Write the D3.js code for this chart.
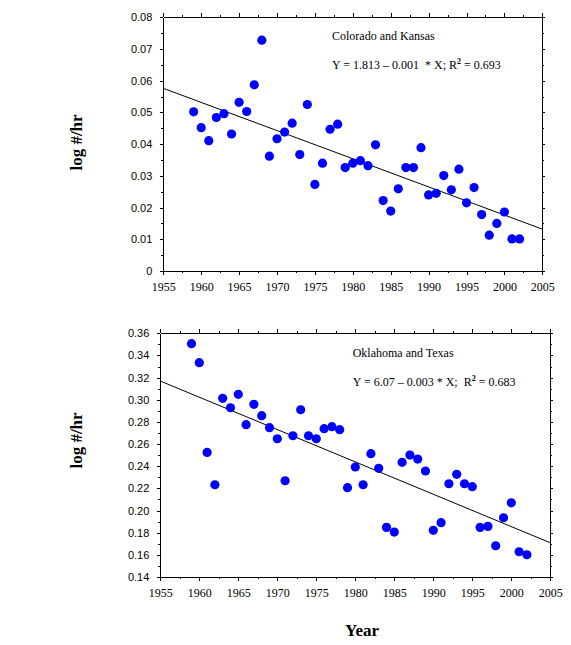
<!DOCTYPE html>
<html><head><meta charset="utf-8">
<script src="https://cdn.jsdelivr.net/npm/d3@7"></script>
<style>
body{margin:0;background:#fff;}
svg{display:block;}
</style></head>
<body>
<svg id="chart" width="571" height="645"></svg>
<script>
// ---- Data ----
const yearsCK = [1959,1960,1961,1962,1963,1964,1965,1966,1967,1968,1969,1970,1971,1972,1973,1974,1975,1976,1977,1978,1979,1980,1981,1982,1983,1984,1985,1986,1987,1988,1989,1990,1991,1992,1993,1994,1995,1996,1997,1998,1999,2000,2001,2002];
const valuesCK = [0.0502,0.0452,0.0411,0.0484,0.0496,0.0432,0.0532,0.0503,0.0587,0.0728,0.0362,0.0417,0.0438,0.0466,0.0367,0.0525,0.0273,0.0340,0.0447,0.0463,0.0326,0.0340,0.0348,0.0332,0.0398,0.0222,0.0189,0.0259,0.0326,0.0326,0.0389,0.0240,0.0245,0.0301,0.0256,0.0321,0.0215,0.0263,0.0178,0.0113,0.0150,0.0186,0.0101,0.0101];
const trendCK = [[1955,0.0576],[2005,0.0132]];

const yearsOT = [1959,1960,1961,1962,1963,1964,1965,1966,1967,1968,1969,1970,1971,1972,1973,1974,1975,1976,1977,1978,1979,1980,1981,1982,1983,1984,1985,1986,1987,1988,1989,1990,1991,1992,1993,1994,1995,1996,1997,1998,1999,2000,2001,2002];
const valuesOT = [0.3506,0.3335,0.2525,0.2233,0.3013,0.2928,0.3049,0.2775,0.2959,0.2856,0.2748,0.2648,0.2269,0.2675,0.2910,0.2675,0.2648,0.2739,0.2757,0.2730,0.2206,0.2393,0.2233,0.2513,0.2381,0.1848,0.1806,0.2435,0.2501,0.2465,0.2357,0.1821,0.1890,0.2242,0.2327,0.2242,0.2215,0.1848,0.1857,0.1682,0.1935,0.2070,0.1628,0.1601];
const trendOT = [[1955,0.3169],[2005,0.1709]];

const xTicks = [1955,1960,1965,1970,1975,1980,1985,1990,1995,2000,2005];
const xMinor = [1957.5,1962.5,1967.5,1972.5,1977.5,1982.5,1987.5,1992.5,1997.5,2002.5];
const yTicksCK = [0,0.01,0.02,0.03,0.04,0.05,0.06,0.07,0.08];
const yMinorCK = [0.005,0.015,0.025,0.035,0.045,0.055,0.065,0.075];
const yTicksOT = [0.14,0.16,0.18,0.20,0.22,0.24,0.26,0.28,0.30,0.32,0.34,0.36];
const yMinorOT = [0.15,0.17,0.19,0.21,0.23,0.25,0.27,0.29,0.31,0.33,0.35];

const titleCK = "Colorado and Kansas";
const eqCK = ["Y = 1.813 \u2013 0.001  * X; R", "2", " = 0.693"];
const titleOT = "Oklahoma and Texas";
const eqOT = ["Y = 6.07 \u2013 0.003 * X;  R", "2", " = 0.683"];

const yLabel = "log #/hr";
const xLabel = "Year";

// ---- Drawing ----
const svg = d3.select("#chart");

function panel(cfg){
  const x = d3.scaleLinear().domain([1955,2005]).range([cfg.x0, cfg.x1]);
  const y = d3.scaleLinear().domain(cfg.yDomain).range([cfg.y0, cfg.y1]);
  const g = svg.append("g");

  function styleAxis(sel){
    sel.select(".domain").attr("stroke","#000").attr("stroke-width",1);
    sel.selectAll(".tick line").attr("stroke","#000");
    sel.attr("shape-rendering","crispEdges");
  }
  // bottom
  g.append("g").attr("transform",`translate(0,${cfg.y0})`)
    .call(d3.axisBottom(x).tickValues(xTicks).tickSize(4).tickPadding(7).tickFormat(d3.format("d")).tickSizeOuter(0))
    .call(styleAxis)
    .call(s=>s.selectAll("text").attr("font-family","'Liberation Serif', serif").attr("font-size",12).attr("fill","#000"));
  g.append("g").attr("transform",`translate(0,${cfg.y0})`)
    .call(d3.axisBottom(x).tickValues(xMinor).tickSize(2).tickFormat("").tickSizeOuter(0))
    .call(styleAxis).call(s=>s.select(".domain").remove());
  // top
  g.append("g").attr("transform",`translate(0,${cfg.y1})`)
    .call(d3.axisTop(x).tickValues(xTicks).tickSize(4).tickFormat("").tickSizeOuter(0))
    .call(styleAxis);
  g.append("g").attr("transform",`translate(0,${cfg.y1})`)
    .call(d3.axisTop(x).tickValues(xMinor).tickSize(2).tickFormat("").tickSizeOuter(0))
    .call(styleAxis).call(s=>s.select(".domain").remove());
  // left
  g.append("g").attr("transform",`translate(${cfg.x0},0)`)
    .call(d3.axisLeft(y).tickValues(cfg.yTicks).tickSize(3).tickPadding(8).tickFormat(cfg.fmt).tickSizeOuter(0))
    .call(styleAxis)
    .call(s=>s.selectAll("text").attr("font-family","'Liberation Sans', Arial, sans-serif").attr("font-size",11).attr("fill","#000"));
  g.append("g").attr("transform",`translate(${cfg.x0},0)`)
    .call(d3.axisLeft(y).tickValues(cfg.yMinor).tickSize(2).tickFormat("").tickSizeOuter(0))
    .call(styleAxis).call(s=>s.select(".domain").remove());
  // right
  g.append("g").attr("transform",`translate(${cfg.x1},0)`)
    .call(d3.axisRight(y).tickValues(cfg.yTicks).tickSize(3).tickFormat("").tickSizeOuter(0))
    .call(styleAxis);
  g.append("g").attr("transform",`translate(${cfg.x1},0)`)
    .call(d3.axisRight(y).tickValues(cfg.yMinor).tickSize(2).tickFormat("").tickSizeOuter(0))
    .call(styleAxis).call(s=>s.select(".domain").remove());

  // trend line
  g.append("path").datum(cfg.trend)
    .attr("d", d3.line().x(d=>x(d[0])).y(d=>y(d[1])))
    .attr("fill","none").attr("stroke","#000").attr("stroke-width",1);

  // points
  g.selectAll("circle.pt").data(cfg.years.map((yr,i)=>[yr,cfg.values[i]]))
    .join("circle").attr("class","pt")
    .attr("cx",d=>x(d[0])).attr("cy",d=>y(d[1])).attr("r",4.6)
    .attr("fill","#0000FF");

  // annotations
  const tf = "'Liberation Serif', 'Times New Roman', serif";
  g.append("text").attr("x",cfg.annX).attr("y",cfg.annY)
    .attr("font-family",tf).attr("font-size",12).attr("fill","#000")
    .text(cfg.title);
  const t = g.append("text").attr("x",cfg.annX).attr("y",cfg.annY+28.5)
    .attr("font-family",tf).attr("font-size",12).attr("fill","#000")
    .attr("xml:space","preserve").style("white-space","pre");
  t.append("tspan").text(cfg.eq[0]);
  t.append("tspan").attr("font-size",8).attr("font-weight","bold").attr("dy",-5).text(cfg.eq[1]);
  t.append("tspan").attr("dy",5).text(cfg.eq[2]);

  // y label
  svg.append("text")
    .attr("transform",`translate(${cfg.labelX},${cfg.labelY}) rotate(-90)`)
    .attr("text-anchor","middle").attr("dominant-baseline","central")
    .attr("font-family",tf).attr("font-weight","bold").attr("font-size",17).attr("fill","#000")
    .text(yLabel);
}

panel({x0:163.3,x1:542.3,y0:271,y1:17.3,yDomain:[0,0.08],yTicks:yTicksCK,yMinor:yMinorCK,
  fmt:d=>d===0?"0":d3.format(".2f")(d),years:yearsCK,values:valuesCK,trend:trendCK,
  title:titleCK,eq:eqCK,annX:332,annY:40,labelX:76,labelY:142.5});
panel({x0:160.3,x1:550.3,y0:577,y1:333.3,yDomain:[0.14,0.36],yTicks:yTicksOT,yMinor:yMinorOT,
  fmt:d3.format(".2f"),years:yearsOT,values:valuesOT,trend:trendOT,
  title:titleOT,eq:eqOT,annX:352.7,annY:357,labelX:76,labelY:440.5});

svg.append("text").attr("x",362).attr("y",636)
  .attr("text-anchor","middle")
  .attr("font-family","'Liberation Serif', 'Times New Roman', serif").attr("font-weight","bold").attr("font-size",17)
  .attr("fill","#000").text(xLabel);
</script>
</body></html>
